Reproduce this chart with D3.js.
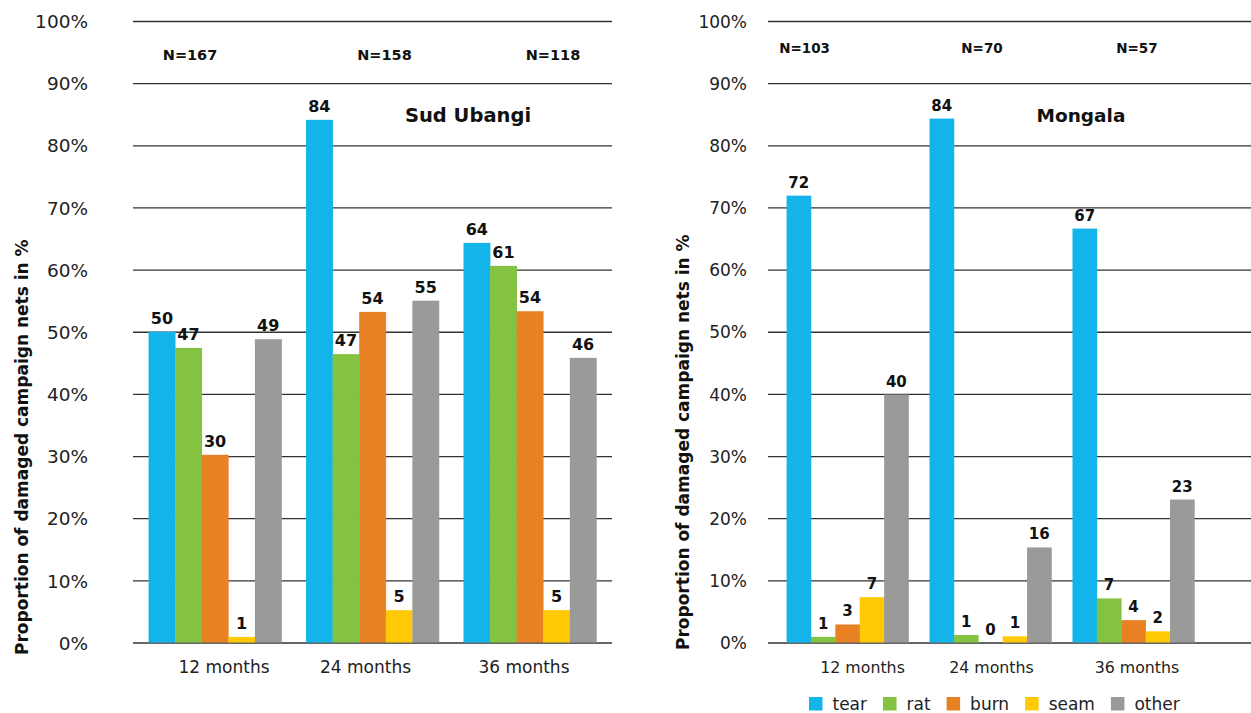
<!DOCTYPE html>
<html>
<head>
<meta charset="utf-8">
<script src="https://cdn.jsdelivr.net/npm/d3@7"></script>
<style>
    body { margin: 0; background: #fff; }
    svg { display: block; }
</style>
</head>
<body>
<svg id="chart" width="1251" height="713"></svg>
<script>
// categories / series
const categories = ["12 months", "24 months", "36 months"]
const series = ["tear", "rat", "burn", "seam", "other"]
const seriesColors = ["#13b4e9", "#84c341", "#e88024", "#ffca05", "#9a9a98"]
const yTicks = [0, 10, 20, 30, 40, 50, 60, 70, 80, 90, 100]

// Sud Ubangi: bar heights per category (tear, rat, burn, seam, other) and printed labels
const sudUbangiBars = [
    [50.0, 47.4, 30.2, 0.9, 48.8],
    [84.1, 46.4, 53.2, 5.2, 55.0],
    [64.3, 60.6, 53.3, 5.2, 45.8]
]
const sudUbangiLabels = [
    [50, 47, 30, 1, 49],
    [84, 47, 54, 5, 55],
    [64, 61, 54, 5, 46]
]
const sudUbangiN = ["N=167", "N=158", "N=118"]

// Mongala
const mongalaBars = [
    [71.9, 0.9, 2.9, 7.3, 39.9],
    [84.3, 1.2, 0.0, 1.0, 15.3],
    [66.6, 7.1, 3.6, 1.8, 23.0]
]
const mongalaLabels = [
    [72, 1, 3, 7, 40],
    [84, 1, 0, 1, 16],
    [67, 7, 4, 2, 23]
]
const mongalaN = ["N=103", "N=70", "N=57"]

const Y_TITLE = "Proportion of damaged campaign nets in %"
const FONT = "'DejaVu Sans', sans-serif"
const TOP = 21, BOTTOM = 642.5

const svg = d3.select("#chart")

function drawPanel(cfg) {
    const g = svg.append("g")

    const y = d3.scaleLinear().domain([0, 100]).range([BOTTOM, TOP])

    const x0 = d3.scaleBand()
        .domain(categories)
        .range(cfg.bandRange)
        .paddingInner(cfg.padInner)
        .paddingOuter(cfg.padOuter)

    const x1 = d3.scaleBand()
        .domain(series)
        .range([0, x0.bandwidth()])

    // gridlines + tick labels
    const axis = g.append("g")
        .attr("transform", "translate(" + cfg.gridStart + ",0)")
        .call(d3.axisLeft(y)
            .tickValues(yTicks)
            .tickSize(-(cfg.gridEnd - cfg.gridStart))
            .tickPadding(cfg.tickPad)
            .tickFormat(d => d + "%"))
    axis.select(".domain").remove()
    axis.selectAll("line")
        .attr("stroke", "#333")
        .attr("stroke-width", 1.3)
    axis.selectAll("text")
        .attr("font-family", FONT)
        .attr("font-size", cfg.tickFont)
        .attr("fill", "#222")
        .attr("dy", "0.36em")

    // bars
    const groups = g.selectAll(".grp")
        .data(categories)
        .enter()
        .append("g")
        .attr("class", "grp")
        .attr("transform", d => "translate(" + x0(d) + ",0)")

    groups.selectAll("rect")
        .data((d, i) => cfg.bars[i].map((v, j) => ({ key: series[j], v: v, c: seriesColors[j] })))
        .enter()
        .append("rect")
        .attr("x", d => x1(d.key))
        .attr("y", d => y(d.v))
        .attr("width", x1.bandwidth() + 0.3)
        .attr("height", d => y(0) - y(d.v))
        .attr("fill", d => d.c)

    groups.selectAll(".val")
        .data((d, i) => cfg.bars[i].map((v, j) => ({ key: series[j], v: v, label: cfg.labels[i][j] })))
        .enter()
        .append("text")
        .attr("class", "val")
        .attr("x", d => x1(d.key) + x1.bandwidth() / 2)
        .attr("y", d => y(d.v) - 8)
        .attr("text-anchor", "middle")
        .attr("font-family", FONT)
        .attr("font-weight", "bold")
        .attr("font-size", cfg.valFont)
        .attr("fill", "#111")
        .text(d => d.label)

    // category labels
    g.selectAll(".cat")
        .data(categories)
        .enter()
        .append("text")
        .attr("class", "cat")
        .attr("x", (d, i) => x0(d) + x0.bandwidth() / 2 + cfg.catDx[i])
        .attr("y", 673)
        .attr("text-anchor", "middle")
        .attr("font-family", FONT)
        .attr("font-size", cfg.catFont)
        .attr("fill", "#222")
        .text(d => d)

    // N annotations
    g.selectAll(".n")
        .data(cfg.n)
        .enter()
        .append("text")
        .attr("class", "n")
        .attr("x", (d, i) => x0(categories[i]) + x0.bandwidth() / 2 + cfg.nDx[i])
        .attr("y", cfg.nY)
        .attr("text-anchor", "middle")
        .attr("font-family", FONT)
        .attr("font-weight", "bold")
        .attr("font-size", cfg.nFont)
        .attr("fill", "#111")
        .text(d => d)

    // panel title
    g.append("text")
        .attr("x", cfg.titleX)
        .attr("y", 122)
        .attr("text-anchor", "middle")
        .attr("font-family", FONT)
        .attr("font-weight", "bold")
        .attr("font-size", cfg.titleFont)
        .attr("fill", "#111")
        .text(cfg.title)

    // y axis title
    g.append("text")
        .attr("transform", "translate(" + cfg.yTitleX + "," + cfg.yTitleY + ") rotate(-90)")
        .attr("font-family", FONT)
        .attr("font-weight", "bold")
        .attr("font-size", 17)
        .attr("fill", "#111")
        .text(Y_TITLE)
}

drawPanel({
    title: "Sud Ubangi", titleX: 468, titleFont: 19.5,
    bars: sudUbangiBars, labels: sudUbangiLabels, n: sudUbangiN,
    bandRange: [133, 612], padInner: 0.156, padOuter: 0.099,
    gridStart: 133, gridEnd: 612, tickPad: 45, tickFont: 18.5,
    valFont: 16, catFont: 17, nFont: 14.5, nY: 60,
    catDx: [9, -7, -6], nDx: [-25, 12, 23],
    yTitleX: 28, yTitleY: 655
})

drawPanel({
    title: "Mongala", titleX: 1081, titleFont: 18.5,
    bars: mongalaBars, labels: mongalaLabels, n: mongalaN,
    bandRange: [768, 1213], padInner: 0.147, padOuter: 0.13,
    gridStart: 768, gridEnd: 1251, tickPad: 21, tickFont: 17,
    valFont: 15, catFont: 15.8, nFont: 13.5, nY: 53,
    catDx: [15, 1, 3.5], nDx: [-43, -8.5, 3.5],
    yTitleX: 689, yTitleY: 650
})

// legend
const legend = svg.append("g")
let lx = 809
series.forEach((s, i) => {
    legend.append("rect")
        .attr("x", lx)
        .attr("y", 697)
        .attr("width", 13.5)
        .attr("height", 13.5)
        .attr("fill", seriesColors[i])
    const t = legend.append("text")
        .attr("x", lx + 23.5)
        .attr("y", 709.5)
        .attr("font-family", FONT)
        .attr("font-size", 17)
        .attr("fill", "#222")
        .text(s)
    lx += 23.5 + t.node().getComputedTextLength() + 16
})
</script>
</body>
</html>
